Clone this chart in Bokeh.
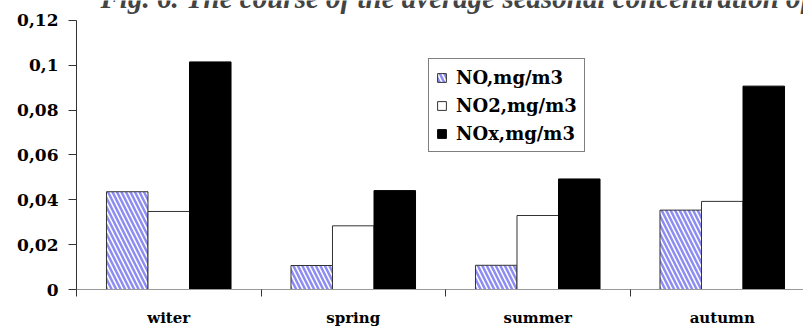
from bokeh.plotting import figure
from bokeh.models import (Range1d, FixedTicker, ColumnDataSource, Legend,
                          LegendItem, Label)
from bokeh.transform import dodge
from bokeh.embed import file_html
from bokeh.resources import INLINE

# Seasonal averages of nitrogen oxides (mg/m3)
seasons = ["witer", "spring", "summer", "autumn"]
no_vals = [0.0436, 0.0107, 0.0108, 0.0354]
no2_vals = [0.0348, 0.0284, 0.0330, 0.0393]
nox_vals = [0.1015, 0.0441, 0.0493, 0.0907]
y_ticks = [0, 0.02, 0.04, 0.06, 0.08, 0.1, 0.12]
y_tick_labels = ["0", "0,02", "0,04", "0,06", "0,08", "0,1", "0,12"]

centers = [i + 0.5 for i in range(len(seasons))]
src = ColumnDataSource(dict(x=centers, no=no_vals, no2=no2_vals, nox=nox_vals))

# frame reaches the top of the canvas; the y axis itself stops at 0.12
px_per_unit = 2250.0
p = figure(width=803, height=329, output_backend="svg", toolbar_location=None,
           x_range=Range1d(0, 727 / 184.5),
           y_range=Range1d(0, 0.12 + 20 / px_per_unit),
           min_border_left=76, min_border_right=0, min_border_top=0,
           min_border_bottom=39)
p.outline_line_color = None
p.xgrid.visible = False
p.ygrid.visible = False
p.background_fill_color = "white"
p.border_fill_color = "white"

bw = 0.225
r_no = p.vbar(x=dodge("x", -bw, range=p.x_range), top="no", width=bw, source=src,
              fill_color="white", line_color="#333333", line_width=1,
              hatch_pattern="left_diagonal_line", hatch_color="#8c8cf2",
              hatch_scale=9, hatch_weight=2.5)
r_no2 = p.vbar(x=dodge("x", 0, range=p.x_range), top="no2", width=bw, source=src,
               fill_color="white", line_color="#333333", line_width=1)
r_nox = p.vbar(x=dodge("x", bw, range=p.x_range), top="nox", width=bw, source=src,
               fill_color="black", line_color="black", line_width=1)

# y axis
ya = p.yaxis[0]
ya.bounds = (0, 0.12)
ya.ticker = FixedTicker(ticks=y_ticks)
ya.major_label_overrides = {t: s for t, s in zip(y_ticks, y_tick_labels)}
ya.minor_tick_line_color = None
ya.major_tick_in = 0
ya.major_tick_out = 8
ya.major_label_standoff = 10
ya.axis_line_color = "#333333"
ya.major_tick_line_color = "#333333"
ya.major_label_text_font = "DejaVu Serif"
ya.major_label_text_font_style = "bold"
ya.major_label_text_font_size = "17px"
ya.major_label_text_color = "black"

# x axis: labels centred, ticks on group boundaries
xa = p.xaxis[0]
xa.ticker = FixedTicker(ticks=centers, minor_ticks=[0, 1, 2, 3, 4])
xa.major_label_overrides = {c: s for c, s in zip(centers, seasons)}
xa.major_tick_line_color = None
xa.major_tick_out = 0
xa.major_tick_in = 0
xa.minor_tick_in = 0
xa.minor_tick_out = 7
xa.minor_tick_line_color = "#333333"
xa.axis_line_color = "#999999"
xa.major_label_standoff = 12
xa.major_label_text_font = "DejaVu Serif"
xa.major_label_text_font_style = "bold"
xa.major_label_text_font_size = "15px"
xa.major_label_text_color = "black"

legend = Legend(items=[LegendItem(label="NO,mg/m3", renderers=[r_no]),
                       LegendItem(label="NO2,mg/m3", renderers=[r_no2]),
                       LegendItem(label="NOx,mg/m3", renderers=[r_nox])],
                location=(352, 137), orientation="vertical",
                border_line_color="black", border_line_width=1,
                label_text_font="DejaVu Serif", label_text_font_style="bold",
                label_text_font_size="18px", label_text_color="black",
                label_height=22, glyph_height=11, glyph_width=11, spacing=6,
                padding=7, label_standoff=9, margin=0, background_fill_alpha=1)
p.add_layout(legend, "center")

title = Label(x=24 / 184.5, y=(290 + 2.5) / px_per_unit,
              text="Fig. 6. The course of the average seasonal concentration of",
              text_font="Liberation Serif", text_font_style="bold italic",
              text_font_size="29px", text_baseline="alphabetic", text_align="left")
p.add_layout(title)

open("out.html", "w").write(file_html(p, INLINE))
